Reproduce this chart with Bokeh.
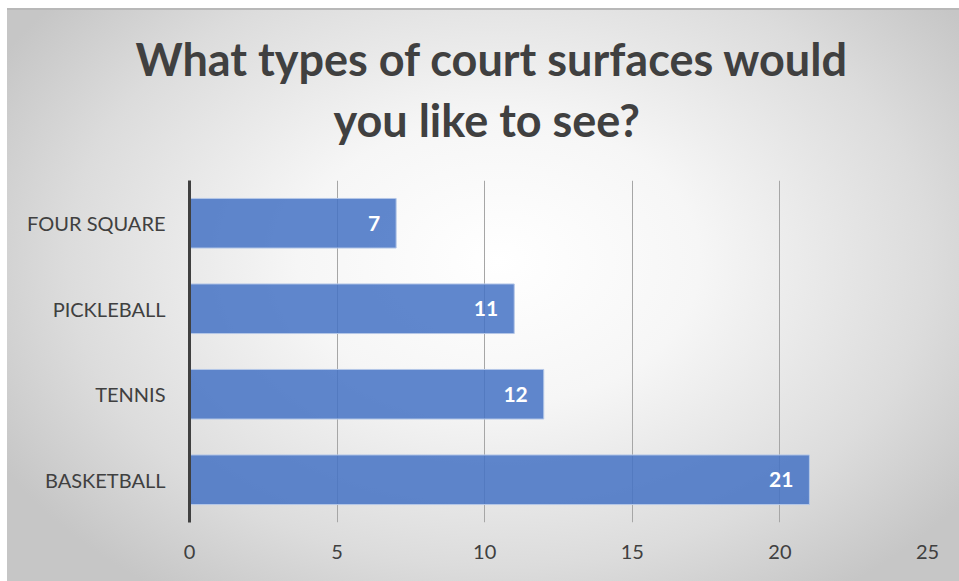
from bokeh.plotting import figure
from bokeh.models import ColumnDataSource, Title, FixedTicker, LabelSet
from bokeh.core.properties import value
from bokeh.embed import file_html
from bokeh.resources import INLINE

categories = ["BASKETBALL", "TENNIS", "PICKLEBALL", "FOUR SQUARE"]
counts = [21, 12, 11, 7]
x_ticks = [0, 5, 10, 15, 20, 25]
title_lines = ["What types of court surfaces would", "you like to see?"]

FONT = "Lato"
src = ColumnDataSource(dict(cat=categories, val=counts, lbl=[str(v) for v in counts]))

p = figure(width=959, height=581, y_range=categories, x_range=(0, 25),
           output_backend="svg", toolbar_location=None,
           min_border_left=189, min_border_right=32, min_border_top=180, min_border_bottom=59)
p.title = None
p.styles = {"background": (
    "linear-gradient(#ffffff,#ffffff) 0 0 / 7px 100% no-repeat, "
    "linear-gradient(#ffffff,#ffffff) 0 0 / 100% 8px no-repeat, "
    "linear-gradient(#b8b8b8,#b8b8b8) 0 8px / 100% 2px no-repeat, "
    "radial-gradient(ellipse 60% 70% at 52% 45%, #ffffff 0%, #f6f6f6 35%, #dcdcdc 75%, #c6c6c6 100%)")}
p.background_fill_alpha = 0
p.border_fill_alpha = 0
p.outline_line_color = None

p.hbar(y="cat", right="val", height=0.58, source=src,
       fill_color="#4472C4", fill_alpha=0.85, line_color="#b4c7e7", line_width=1)

labels = LabelSet(x="val", y="cat", text="lbl", source=src, x_offset=-16,
                  text_align="right", text_baseline="middle", text_color="white",
                  text_font=value(FONT), text_font_style="bold", text_font_size="21px")
p.add_layout(labels)

p.xgrid.ticker = FixedTicker(ticks=x_ticks)
p.xgrid.grid_line_color = "#a6a6a6"
p.xgrid.grid_line_width = 1
p.ygrid.grid_line_color = None

p.xaxis.ticker = FixedTicker(ticks=x_ticks)
p.xaxis.axis_line_color = None
p.xaxis.major_tick_line_color = None
p.xaxis.minor_tick_line_color = None
p.xaxis.major_label_standoff = 16
p.xaxis.major_label_text_font = FONT
p.xaxis.major_label_text_font_size = "20px"
p.xaxis.major_label_text_color = "#404040"

p.yaxis.axis_line_color = "#404040"
p.yaxis.axis_line_width = 3
p.yaxis.major_tick_line_color = None
p.yaxis.minor_tick_line_color = None
p.yaxis.major_label_standoff = 18
p.yaxis.major_label_text_font = FONT
p.yaxis.major_label_text_font_size = "20px"
p.yaxis.major_label_text_color = "#404040"

p.add_layout(Title(text=title_lines[1], align="left", text_font=FONT,
                   text_font_size="45px", text_font_style="bold", text_color="#404040",
                   standoff=68, offset=144), "above")
p.add_layout(Title(text=title_lines[0], align="left", text_font=FONT,
                   text_font_size="45px", text_font_style="bold", text_color="#404040",
                   standoff=-58, offset=-54), "above")

open("out.html", "w").write(file_html(p, INLINE))
